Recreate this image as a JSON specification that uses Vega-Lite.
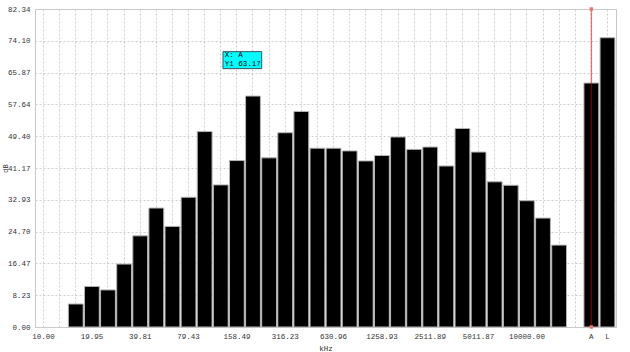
{
  "$schema": "https://vega.github.io/schema/vega-lite/v6.json",
  "width": 581,
  "height": 318,
  "autosize": {"type": "none"},
  "padding": {"left": 35, "top": 9, "right": 14, "bottom": 25},
  "background": "white",
  "config": {
    "view": {"stroke": "#c8c8c8", "strokeWidth": 1},
    "font": "Liberation Mono",
    "axis": {
      "labelFont": "Liberation Mono",
      "titleFont": "Liberation Mono",
      "labelFontSize": 7.5,
      "titleFontSize": 7.5,
      "titleFontWeight": "normal",
      "labelColor": "#333333",
      "titleColor": "#333333",
      "gridColor": "#cccccc",
      "gridDash": [2, 2],
      "ticks": false
    }
  },
  "datasets": {
    "bands": [
      {"cat": "15.85", "val": 5.96},
      {"cat": "19.95", "val": 10.5},
      {"cat": "25.12", "val": 9.6},
      {"cat": "31.62", "val": 16.3},
      {"cat": "39.81", "val": 23.6},
      {"cat": "50.12", "val": 30.8},
      {"cat": "63.10", "val": 26.05},
      {"cat": "79.43", "val": 33.6},
      {"cat": "100.00", "val": 50.6},
      {"cat": "125.89", "val": 36.8},
      {"cat": "158.49", "val": 43.1},
      {"cat": "199.53", "val": 59.8},
      {"cat": "251.19", "val": 43.8},
      {"cat": "316.23", "val": 50.3},
      {"cat": "398.11", "val": 55.8},
      {"cat": "501.19", "val": 46.3},
      {"cat": "630.96", "val": 46.3},
      {"cat": "794.33", "val": 45.6},
      {"cat": "1000.00", "val": 43.0},
      {"cat": "1258.93", "val": 44.4},
      {"cat": "1584.89", "val": 49.2},
      {"cat": "1995.26", "val": 46.0},
      {"cat": "2511.89", "val": 46.6},
      {"cat": "3162.28", "val": 41.7},
      {"cat": "3981.07", "val": 51.4},
      {"cat": "5011.87", "val": 45.3},
      {"cat": "6309.57", "val": 37.6},
      {"cat": "7943.28", "val": 36.7},
      {"cat": "10000.00", "val": 32.7},
      {"cat": "12589.25", "val": 28.2},
      {"cat": "15848.93", "val": 21.2},
      {"cat": "A", "val": 63.17},
      {"cat": "L", "val": 74.9}
    ],
    "cursor": [{"cat": "A"}],
    "cursorEnds": [{"cat": "A", "val": 82.34}, {"cat": "A", "val": 0}],
    "noteBox": [{"from": "125.89", "to": "251.19", "top": 71.3, "bottom": 66.9}],
    "noteText": [
      {"cat": "125.89", "val": 70.4, "t": "X: A"},
      {"cat": "125.89", "val": 68.1, "t": "Y1 63.17"}
    ]
  },
  "layer": [
    {
      "data": {"name": "bands"},
      "mark": {"type": "bar", "color": "#000000", "stroke": "#b4b4b4", "strokeWidth": 1},
      "encoding": {
        "x": {
          "field": "cat",
          "type": "nominal",
          "sort": null,
          "scale": {
            "type": "band",
            "domain": ["10.00", "12.59", "15.85", "19.95", "25.12", "31.62", "39.81", "50.12", "63.10", "79.43", "100.00", "125.89", "158.49", "199.53", "251.19", "316.23", "398.11", "501.19", "630.96", "794.33", "1000.00", "1258.93", "1584.89", "1995.26", "2511.89", "3162.28", "3981.07", "5011.87", "6309.57", "7943.28", "10000.00", "12589.25", "15848.93", "19952.62", "A", "L"],
            "paddingInner": 0.08,
            "paddingOuter": 0.07
          },
          "axis": {
            "title": "kHz",
            "labelAngle": 0,
            "labelOverlap": false,
            "labelPadding": 5,
            "domain": false,
            "grid": true,
            "bandPosition": 0.5,
            "labelExpr": "(datum.label == '10.00' || datum.label == '19.95' || datum.label == '39.81' || datum.label == '79.43' || datum.label == '158.49' || datum.label == '316.23' || datum.label == '630.96' || datum.label == '1258.93' || datum.label == '2511.89' || datum.label == '5011.87' || datum.label == '10000.00' || datum.label == 'A' || datum.label == 'L') ? datum.label : ''",
            "titleY": 17,
            "titleBaseline": "top"
          }
        },
        "y": {
          "field": "val",
          "type": "quantitative",
          "scale": {"domain": [0, 82.34], "nice": false, "zero": true},
          "axis": {
            "title": "dB",
            "values": [0, 8.23, 16.47, 24.7, 32.93, 41.17, 49.4, 57.64, 65.87, 74.1, 82.34],
            "tickCount": 11,
            "format": ".2f",
            "labelOverlap": false,
            "labelFlush": false,
            "grid": true,
            "domain": true,
            "domainColor": "#c8c8c8",
            "labelPadding": 5,
            "titlePadding": -1,
            "titleFontSize": 7
          }
        }
      }
    },
    {
      "data": {"name": "cursor"},
      "mark": {"type": "rule", "color": "#e00000", "opacity": 0.5, "strokeWidth": 1.5},
      "encoding": {
        "x": {"field": "cat", "type": "nominal"}
      }
    },
    {
      "data": {"name": "cursorEnds"},
      "mark": {"type": "square", "color": "#f07070", "opacity": 1, "size": 12},
      "encoding": {
        "x": {"field": "cat", "type": "nominal"},
        "y": {"field": "val", "type": "quantitative"}
      }
    },
    {
      "data": {"name": "noteBox"},
      "mark": {"type": "rect", "fill": "#00ffff", "stroke": "#335566", "strokeWidth": 1},
      "encoding": {
        "x": {"field": "from", "type": "nominal", "bandPosition": 0.65},
        "x2": {"field": "to", "bandPosition": 0},
        "y": {"field": "top", "type": "quantitative"},
        "y2": {"field": "bottom"}
      }
    },
    {
      "data": {"name": "noteText"},
      "mark": {"type": "text", "align": "left", "baseline": "middle", "font": "Liberation Mono", "fontSize": 7.5, "color": "#000000"},
      "encoding": {
        "x": {"field": "cat", "type": "nominal", "bandPosition": 0.76},
        "y": {"field": "val", "type": "quantitative"},
        "text": {"field": "t"}
      }
    }
  ]
}
